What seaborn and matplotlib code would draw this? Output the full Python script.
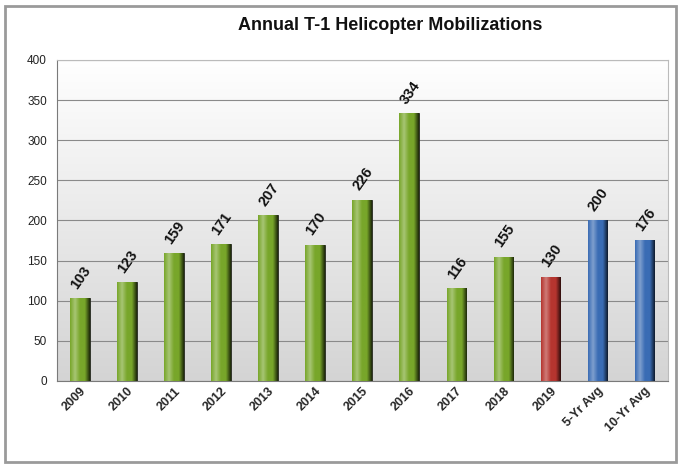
import numpy as np
import pandas as pd
import matplotlib
matplotlib.use("Agg")
import matplotlib.pyplot as plt
import seaborn as sns
from matplotlib.patches import Rectangle
from matplotlib.colors import LinearSegmentedColormap

categories = ['2009', '2010', '2011', '2012', '2013', '2014', '2015', '2016',
              '2017', '2018', '2019', '5-Yr Avg', '10-Yr Avg']
mobilizations = [103, 123, 159, 171, 207, 170, 226, 334, 116, 155, 130, 200, 176]
groups = ['past'] * 10 + ['current'] + ['avg'] * 2
palette = {'past': '#78a62a', 'current': '#b5352f', 'avg': '#3a6cb4'}

data = pd.DataFrame({'year': categories, 'count': mobilizations, 'group': groups})

sns.set_style('white')
plt.rcParams['font.family'] = ['Liberation Sans', 'DejaVu Sans']

fig = plt.figure(figsize=(6.83, 4.68), dpi=100)
fig.patch.set_facecolor('white')
# outer frame like the pasted chart
fig.patches.append(Rectangle((0.008, 0.012), 0.982, 0.975, transform=fig.transFigure,
                             fill=False, edgecolor='#9a9a9a', linewidth=2.0))

ax = fig.add_axes([0.083, 0.186, 0.895, 0.686])

# soft grey-to-white background gradient
grad = np.linspace(0, 1, 256).reshape(-1, 1)
ax.imshow(grad, extent=[-0.5, 12.5, 0, 400], aspect='auto', origin='lower',
          cmap=LinearSegmentedColormap.from_list('bg', ['#d4d4d4', '#ffffff']),
          zorder=0)

sns.barplot(data=data, x='year', y='count', hue='group', palette=palette,
            dodge=False, width=0.42, saturation=1, edgecolor='#1e1e1e', linewidth=0.6,
            legend=False, ax=ax, zorder=3)

# cylinder-ish shading: light on the left, dark on the right
shade = np.linspace(0, 1, 64).reshape(1, -1)
for bar in ax.patches:
    base = bar.get_facecolor()[:3]
    light = tuple(min(1, c + 0.35 * (1 - c)) for c in base)
    dark = tuple(c * 0.25 for c in base)
    cmap = LinearSegmentedColormap.from_list('cyl', [base, light, base, base, dark])
    x0, w, h = bar.get_x(), bar.get_width(), bar.get_height()
    im = ax.imshow(shade, extent=[x0, x0 + w, 0, h], aspect='auto', cmap=cmap, zorder=3.5)
    im.set_clip_path(bar)

for i, v in enumerate(mobilizations):
    ax.text(i + 0.02, v + 8, str(v), rotation=55, ha='center', va='bottom',
            fontsize=10.5, fontweight='bold', color='#111111', zorder=4)

ax.set_xlim(-0.5, 12.5)
ax.set_ylim(0, 400)
ax.set_yticks(range(0, 401, 50))
ax.yaxis.grid(True, color='#8a8a8a', linewidth=0.8)
for line in ax.get_ygridlines():
    line.set_zorder(1)
ax.set_xlabel('')
ax.set_ylabel('')
ax.tick_params(axis='y', labelsize=8.5, colors='#222222', length=4, pad=3)
ax.tick_params(axis='x', length=0, pad=3)
ax.set_xticks(range(len(categories)))
ax.set_xticklabels(categories, rotation=45, ha='right', rotation_mode='anchor',
                   fontsize=9, fontweight='bold')
# minor ticks between categories
ax.set_xticks(np.arange(-0.5, 12.6, 1), minor=True)
ax.tick_params(axis='x', which='minor', length=4, color='#666666')

for side in ['left', 'bottom']:
    ax.spines[side].set_color('#7a7a7a')
ax.spines['top'].set_color('#bbbbbb')
ax.spines['right'].set_color('#bbbbbb')

fig.text(0.572, 0.945, 'Annual T-1 Helicopter Mobilizations', ha='center', va='center',
         fontsize=13, fontweight='bold', color='#111111')

fig.savefig('out.png', dpi=100)
